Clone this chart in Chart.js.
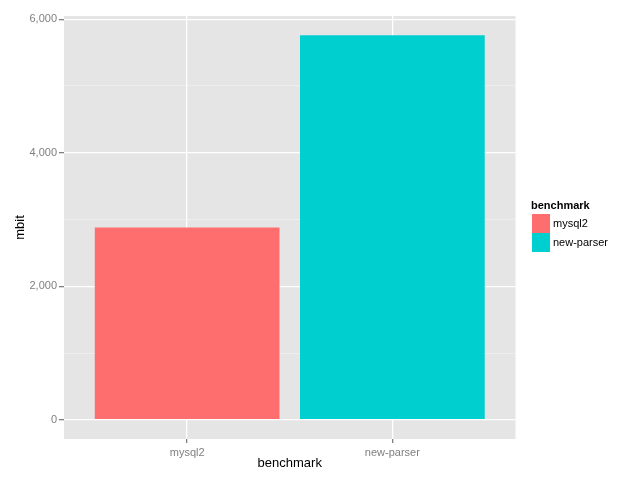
<!DOCTYPE html>
<html>
<head>
<meta charset="utf-8">
<script src="https://cdn.jsdelivr.net/npm/chart.js@4/dist/chart.umd.min.js"></script>
<style>
  html, body { margin: 0; padding: 0; background: #fff; }
</style>
</head>
<body>
<canvas id="benchChart" width="641" height="488"></canvas>
<script>
// values
const benchmarks = ["mysql2", "new-parser"];
const mbit = [2880, 5760];
const barColors = ["#FF6E6E", "#00CFD0"];
const yTicks = [0, 2000, 4000, 6000];
const yMinor = [1000, 3000, 5000];

const FONT = "'Liberation Sans', Arial, sans-serif";
const yPad = Math.max(...mbit) * 0.05; // ggplot-style expansion

// grey panel behind the grid
const panelBg = {
  id: "panelBg",
  beforeDraw(chart) {
    const { ctx, chartArea: a } = chart;
    ctx.save();
    ctx.fillStyle = "#E5E5E5";
    ctx.fillRect(a.left, a.top, a.right - a.left, a.bottom - a.top);
    ctx.restore();
  }
};

// legend drawn by hand, ggplot style (title + touching keys)
const sideLegend = {
  id: "sideLegend",
  afterDraw(chart) {
    const ctx = chart.ctx;
    const x = 532, y0 = 214, key = 19;
    ctx.save();
    ctx.fillStyle = "#000";
    ctx.font = "bold 11px " + FONT;
    ctx.textBaseline = "middle";
    ctx.fillText("benchmark", 531, 206);
    ctx.font = "11px " + FONT;
    benchmarks.forEach((name, i) => {
      ctx.fillStyle = barColors[i];
      ctx.fillRect(x, y0 + i * key, 18, key);
      ctx.fillStyle = "#000";
      ctx.fillText(name, 553, y0 + i * key + key / 2);
    });
    ctx.restore();
  }
};

const isMinor = (v) => yMinor.includes(v);

new Chart(document.getElementById("benchChart").getContext("2d"), {
  type: "bar",
  data: {
    datasets: [{
      data: mbit.map((v, i) => ({ x: i + 1, y: v })),
      backgroundColor: barColors,
      borderWidth: 0,
      barPercentage: 0.9,
      categoryPercentage: 1
    }]
  },
  options: {
    responsive: false,
    animation: false,
    layout: { padding: { left: 0, top: 16, right: 125.5, bottom: 0 } },
    plugins: { legend: { display: false }, tooltip: { enabled: false } },
    scales: {
      x: {
        type: "linear",
        offset: false,
        min: 0.4,
        max: benchmarks.length + 0.6,
        afterBuildTicks: (s) => { s.ticks = benchmarks.map((b, i) => ({ value: i + 1 })); },
        afterFit: (s) => { s.height = 49; },
        ticks: {
          autoSkip: false,
          maxRotation: 0,
          padding: 3,
          color: "#7F7F7F",
          font: { family: FONT, size: 11 },
          callback: (v) => benchmarks[Math.round(v) - 1] || ""
        },
        grid: { offset: false, color: "#FFFFFF", lineWidth: 1.3, tickColor: "#7F7F7F", tickLength: 4, drawTicks: true },
        border: { display: false },
        title: {
          display: true,
          text: "benchmark",
          color: "#000",
          font: { family: FONT, size: 13 },
          padding: { top: 0, bottom: 17 }
        }
      },
      y: {
        min: -yPad,
        max: Math.max(...mbit) + yPad,
        afterBuildTicks: (s) => {
          s.ticks = [...yTicks, ...yMinor].sort((a, b) => a - b).map((v) => ({ value: v }));
        },
        afterFit: (s) => { s.width = 64; },
        ticks: {
          autoSkip: false,
          padding: 2,
          color: "#7F7F7F",
          font: { family: FONT, size: 11 },
          callback: (v) => isMinor(v) ? "" : v.toLocaleString("en-US")
        },
        grid: {
          color: (c) => c.tick && isMinor(c.tick.value) ? "#F2F2F2" : "#FFFFFF",
          lineWidth: (c) => c.tick && isMinor(c.tick.value) ? 0.7 : 1.3,
          tickColor: (c) => c.tick && isMinor(c.tick.value) ? "rgba(0,0,0,0)" : "#7F7F7F",
          tickLength: 5
        },
        border: { display: false },
        title: {
          display: true,
          text: "mbit",
          color: "#000",
          font: { family: FONT, size: 13 },
          padding: { top: 13, bottom: 0 }
        }
      }
    }
  },
  plugins: [panelBg, sideLegend]
});
</script>
</body>
</html>
